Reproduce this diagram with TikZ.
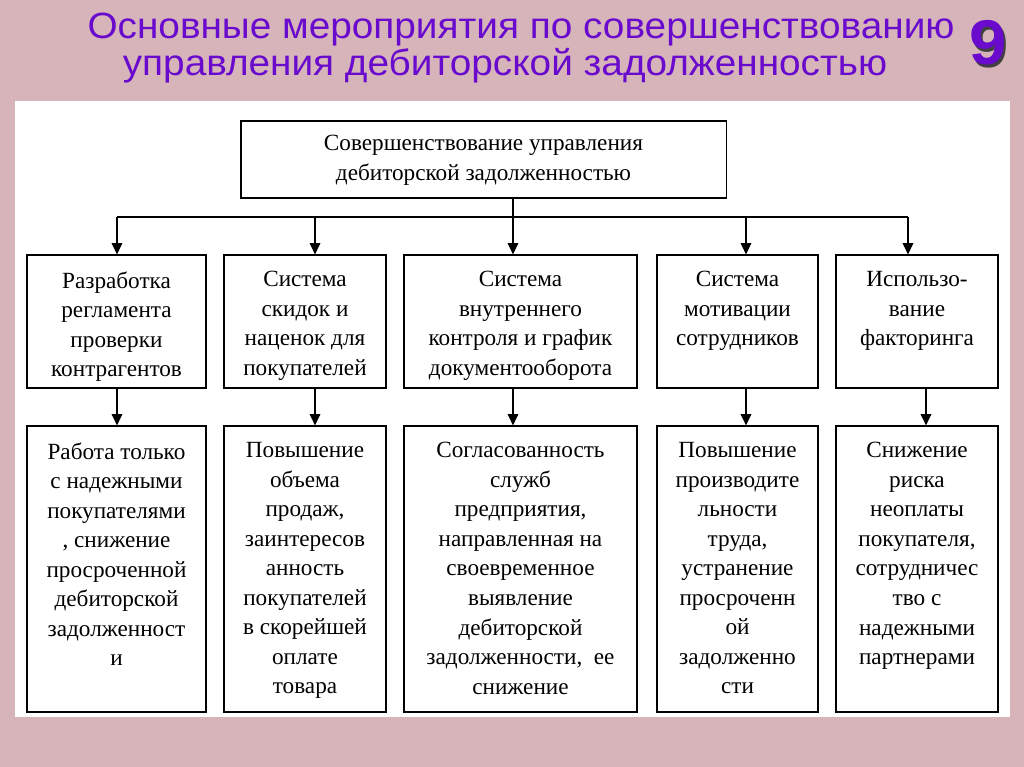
\documentclass[tikz,border=0pt]{standalone}
\usepackage{fontspec}
\setmainfont{Liberation Serif}
\newfontfamily\headfont[FakeStretch=1.06]{Liberation Sans}
\usetikzlibrary{arrows.meta}
\definecolor{slidepink}{RGB}{214,180,186}
\definecolor{headviolet}{RGB}{105,10,205}

\begin{document}
\begin{tikzpicture}[x=0.025cm, y=-0.025cm,
    box/.style={draw, line width=0.8pt, inner sep=0pt},
    txt/.style={anchor=north, align=center, inner sep=0pt, font=\fontsize{16.5}{21}\selectfont},
    head/.style={headviolet, anchor=base, inner sep=0pt, font=\headfont\fontsize{26}{28}\selectfont},
    arr/.style={line width=0.9pt, -{Triangle[length=8pt, width=7.5pt]}}]

  % Background and white sheet
  \fill[slidepink] (0,0) rectangle (1024,767);
  \fill[white] (15,101) rectangle (1010,717);

  % Heading
  \node[head] (head1) at (521,39) {Основные мероприятия по совершенствованию};
  \node[head] (head2) at (505,76) {управления дебиторской задолженностью};
  \node[head, font=\headfont\bfseries\fontsize{45}{45}\selectfont] (num) at (988,65)
    {\makebox[0pt][l]{\kern1.8pt\raisebox{-1.8pt}{\textcolor{gray!50!black}{9}}}9};

  % Top box
  \node[box, minimum width=12.125cm, minimum height=1.925cm] (top) at (483.5,159.5) {};
  \node[txt] (toptxt) at ([yshift=-0.37cm]top.north) {Совершенствование управления\\дебиторской задолженностью};

  % First row
  \node[box, minimum width=4.475cm, minimum height=3.325cm] (b1) at (116.5,321.5) {};
  \node[box, minimum width=4.05cm, minimum height=3.325cm] (b2) at (305,321.5) {};
  \node[box, minimum width=5.825cm, minimum height=3.325cm] (b3) at (520.5,321.5) {};
  \node[box, minimum width=4.025cm, minimum height=3.325cm] (b4) at (737.5,321.5) {};
  \node[box, minimum width=4.05cm, minimum height=3.325cm] (b5) at (917,321.5) {};
  \node[txt] (b1txt) at ([yshift=-0.42cm]b1.north) {Разработка\\регламента\\проверки\\контрагентов};
  \node[txt] (b2txt) at ([yshift=-0.42cm]b2.north) {Система\\скидок и\\наценок для\\покупателей};
  \node[txt] (b3txt) at ([yshift=-0.42cm]b3.north) {Система\\внутреннего\\контроля и график\\документооборота};
  \node[txt] (b4txt) at ([yshift=-0.42cm]b4.north) {Система\\мотивации\\сотрудников};
  \node[txt] (b5txt) at ([yshift=-0.42cm]b5.north) {Использо-\\вание\\факторинга};

  % Second row
  \node[box, minimum width=4.475cm, minimum height=7.15cm] (d1) at (116.5,569) {};
  \node[box, minimum width=4.05cm, minimum height=7.15cm] (d2) at (305,569) {};
  \node[box, minimum width=5.825cm, minimum height=7.15cm] (d3) at (520.5,569) {};
  \node[box, minimum width=4.025cm, minimum height=7.15cm] (d4) at (737.5,569) {};
  \node[box, minimum width=4.05cm, minimum height=7.15cm] (d5) at (917,569) {};
  \node[txt] (d1txt) at ([yshift=-0.42cm]d1.north) {Работа только\\с надежными\\покупателями\\, снижение\\просроченной\\дебиторской\\задолженност\\и};
  \node[txt] (d2txt) at ([yshift=-0.42cm]d2.north) {Повышение\\объема\\продаж,\\заинтересов\\анность\\покупателей\\в скорейшей\\оплате\\товара};
  \node[txt] (d3txt) at ([yshift=-0.42cm]d3.north) {Согласованность\\служб\\предприятия,\\направленная на\\своевременное\\выявление\\дебиторской\\задолженности,\ \ ее\\снижение};
  \node[txt] (d4txt) at ([yshift=-0.42cm]d4.north) {Повышение\\производите\\льности\\труда,\\устранение\\просроченн\\ой\\задолженно\\сти};
  \node[txt] (d5txt) at ([yshift=-0.42cm]d5.north) {Снижение\\риска\\неоплаты\\покупателя,\\сотрудничес\\тво с\\надежными\\партнерами};

  % Bus from the top box
  \coordinate (bus1) at (117,217);
  \coordinate (bus2) at (315,217);
  \coordinate (bus3) at (513,217);
  \coordinate (bus4) at (746,217);
  \coordinate (bus5) at (908,217);
  \coordinate (low5) at (926,400);
  \draw[line width=0.9pt] (bus1) -- (bus5);
  \draw[arr] (top.south -| bus3) -- (bus3 |- b3.north);
  \draw[arr] (bus1) -- (bus1 |- b1.north);
  \draw[arr] (bus2) -- (bus2 |- b2.north);
  \draw[arr] (bus4) -- (bus4 |- b4.north);
  \draw[arr] (bus5) -- (bus5 |- b5.north);

  % Arrows between the rows
  \draw[arr] (bus1 |- b1.south) -- (bus1 |- d1.north);
  \draw[arr] (bus2 |- b2.south) -- (bus2 |- d2.north);
  \draw[arr] (bus3 |- b3.south) -- (bus3 |- d3.north);
  \draw[arr] (bus4 |- b4.south) -- (bus4 |- d4.north);
  \draw[arr] (low5 |- b5.south) -- (low5 |- d5.north);

\end{tikzpicture}
\end{document}
